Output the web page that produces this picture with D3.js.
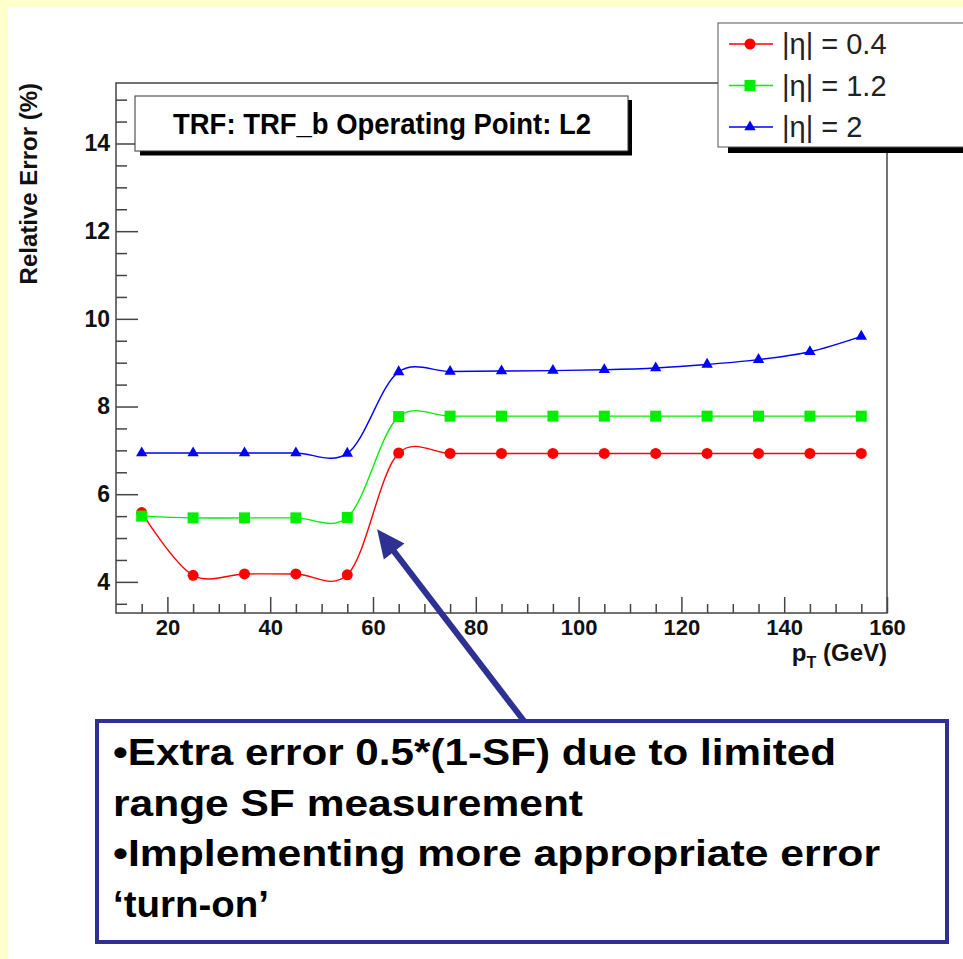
<!DOCTYPE html>
<html>
<head>
<meta charset="utf-8">
<script src="https://cdn.jsdelivr.net/npm/d3@7"></script>
<style>
  body { margin: 0; background: #fff; }
  svg { display: block; font-family: "Liberation Sans", Arial, Helvetica, sans-serif; }
</style>
</head>
<body>
<svg id="chart" width="963" height="959"></svg>
<script>
// data
const pt = [15, 25, 35, 45, 55, 65, 75, 85, 95, 105, 115, 125, 135, 145, 155]
const errEta04 = [5.58, 4.15, 4.18, 4.18, 4.16, 6.94, 6.93, 6.93, 6.93, 6.93, 6.93, 6.93, 6.93, 6.93, 6.93]
const errEta12 = [5.5, 5.46, 5.46, 5.46, 5.47, 7.77, 7.78, 7.78, 7.78, 7.78, 7.78, 7.78, 7.78, 7.78, 7.78]
const errEta2 = [6.94, 6.94, 6.94, 6.94, 6.93, 8.79, 8.8, 8.81, 8.82, 8.84, 8.88, 8.96, 9.07, 9.25, 9.6]
const seriesNames = ["|η| = 0.4", "|η| = 1.2", "|η| = 2"]
const xTicks = [20, 40, 60, 80, 100, 120, 140, 160]
const xMinor = d3.range(15, 160, 5).filter((v) => v % 20 !== 0)
const yTicks = [4, 6, 8, 10, 12, 14]
const yMinor = d3.range(3.5, 15.5, 0.5).filter((v) => v % 2 !== 0)
const titleText = "TRF: TRF_b Operating Point: L2"
const noteLines = [
  "•Extra error 0.5*(1-SF) due to limited",
  "range SF measurement",
  "•Implementing more appropriate error",
  "‘turn-on’",
]
const arrowTip = [60.8, 5.2]

const svg = d3.select("#chart")
const W = 963, H = 959
const frame = {left: 116, right: 887, top: 83, bottom: 613}
const navy = "#2e3192"

// slide background strips
svg.append("rect").attr("width", W).attr("height", H).attr("fill", "#fff")
svg.append("rect").attr("width", W).attr("height", 7).attr("fill", "#ffffcc")
svg.append("rect").attr("width", 8).attr("height", H).attr("fill", "#ffffcc")

const x = d3.scaleLinear().domain([10, 160]).range([frame.left, frame.right])
const y = d3.scaleLinear().domain([3.29, 15.38]).range([frame.bottom, frame.top])

const series = [
  {name: seriesNames[0], values: errEta04, color: "#ff0000", shape: "circle"},
  {name: seriesNames[1], values: errEta12, color: "#00ee00", shape: "square"},
  {name: seriesNames[2], values: errEta2, color: "#0000ff", shape: "triangle"},
]

const marker = (sel, s) => {
  if (s.shape === "circle") {
    sel.append("circle").attr("r", 5.5).attr("fill", s.color)
  } else if (s.shape === "square") {
    sel.append("rect").attr("x", -5.5).attr("y", -5.5).attr("width", 11).attr("height", 11).attr("fill", s.color)
  } else {
    sel.append("path").attr("d", d3.symbol(d3.symbolTriangle, 56)()).attr("fill", s.color)
  }
}

// axes with inward ticks, ROOT style
const axisStyle = (gg) => {
  gg.select(".domain").remove()
  gg.selectAll("line").attr("stroke", "#444").attr("stroke-width", 1.5)
  gg.selectAll("text").attr("font-size", 22).attr("font-weight", "bold").attr("fill", "#111")
    .attr("font-family", "Liberation Sans, Arial, sans-serif")
}

svg.append("g")
  .attr("transform", `translate(0,${frame.bottom})`)
  .call(d3.axisBottom(x).tickValues(xMinor).tickSize(-9).tickFormat(""))
  .call(axisStyle)
svg.append("g")
  .attr("transform", `translate(0,${frame.bottom})`)
  .call(d3.axisBottom(x).tickValues(xTicks).tickSize(-16).tickPadding(6).tickFormat(d3.format("d")))
  .call(axisStyle)
svg.append("g")
  .attr("transform", `translate(${frame.left},0)`)
  .call(d3.axisLeft(y).tickValues(yMinor).tickSize(-11).tickFormat(""))
  .call(axisStyle)
svg.append("g")
  .attr("transform", `translate(${frame.left},0)`)
  .call(d3.axisLeft(y).tickValues(yTicks).tickSize(-22).tickPadding(6).tickFormat(d3.format("d")))
  .call(axisStyle)
  .call((gg) => gg.selectAll("text").attr("font-size", 23))

svg.append("rect")
  .attr("x", frame.left).attr("y", frame.top)
  .attr("width", frame.right - frame.left).attr("height", frame.bottom - frame.top)
  .attr("fill", "none").attr("stroke", "#444").attr("stroke-width", 1.5)

// axis titles
svg.append("text")
  .attr("transform", `translate(37,${frame.top}) rotate(-90)`)
  .attr("text-anchor", "end").attr("font-size", 24).attr("font-weight", "bold").attr("fill", "#111")
  .text("Relative Error (%)")

const xl = svg.append("text")
  .attr("x", frame.right).attr("y", 661)
  .attr("text-anchor", "end").attr("font-size", 24).attr("font-weight", "bold").attr("fill", "#111")
xl.append("tspan").text("p")
xl.append("tspan").attr("dy", 7).attr("font-size", 16).text("T")
xl.append("tspan").attr("dy", -7).text(" (GeV)")

// smoothed curves and markers
const line = d3.line().x((d, i) => x(pt[i])).y((d) => y(d)).curve(d3.curveCatmullRom.alpha(0.2))

series.forEach((s) => {
  svg.append("path")
    .attr("d", line(s.values))
    .attr("fill", "none").attr("stroke", s.color).attr("stroke-width", 1.4)
  svg.append("g").selectAll("g")
    .data(s.values)
    .join("g")
    .attr("transform", (d, i) => `translate(${x(pt[i])},${y(d)})`)
    .each(function () { marker(d3.select(this), s) })
})

// title pave
svg.append("rect").attr("x", 140).attr("y", 151).attr("width", 492).attr("height", 4.5).attr("fill", "#000")
svg.append("rect").attr("x", 628).attr("y", 100).attr("width", 4).attr("height", 55).attr("fill", "#000")
svg.append("rect").attr("x", 135).attr("y", 96).attr("width", 493).attr("height", 55)
  .attr("fill", "#fff").attr("stroke", "#333").attr("stroke-width", 1)
svg.append("text")
  .attr("x", 382).attr("y", 134).attr("text-anchor", "middle")
  .attr("font-size", 30).attr("font-weight", "bold").attr("fill", "#000")
  .attr("textLength", 418).attr("lengthAdjust", "spacingAndGlyphs")
  .text(titleText)

// legend
const lg = svg.append("g")
lg.append("rect").attr("x", 728).attr("y", 147).attr("width", 260).attr("height", 6).attr("fill", "#000")
lg.append("rect").attr("x", 718).attr("y", 23).attr("width", 260).attr("height", 124)
  .attr("fill", "#fff").attr("stroke", "#555").attr("stroke-width", 1)
const rowY = d3.scalePoint().domain(seriesNames).range([44, 127])
series.forEach((s) => {
  const r = lg.append("g").attr("transform", `translate(0,${rowY(s.name)})`)
  r.append("line").attr("x1", 729).attr("x2", 773).attr("stroke", s.color).attr("stroke-width", 1.4)
  marker(r.append("g").attr("transform", "translate(750,0)"), s)
  r.append("text").attr("x", 782).attr("dy", "0.36em")
    .attr("font-size", 29).attr("fill", "#222").text(s.name)
})

// annotation box and arrow
const tail = [524, 721]
const tip = [x(arrowTip[0]), y(arrowTip[1])]
const dx = tip[0] - tail[0], dy = tip[1] - tail[1]
const len = Math.hypot(dx, dy)
const ux = dx / len, uy = dy / len
const headL = 28, headW = 13
const base = [tip[0] - ux * headL, tip[1] - uy * headL]
svg.append("line")
  .attr("x1", tail[0]).attr("y1", tail[1]).attr("x2", base[0] + ux * 4).attr("y2", base[1] + uy * 4)
  .attr("stroke", navy).attr("stroke-width", 6)
svg.append("polygon")
  .attr("points", [
    tip,
    [base[0] - uy * headW, base[1] + ux * headW],
    [base[0] + uy * headW, base[1] - ux * headW],
  ].map((p) => p.join(",")).join(" "))
  .attr("fill", navy)

svg.append("rect").attr("x", 97).attr("y", 721).attr("width", 850).attr("height", 221)
  .attr("fill", "#fff").attr("stroke", navy).attr("stroke-width", 4)

const noteWidths = [723, 470, 767, 156]
noteLines.forEach((t, i) => {
  svg.append("text")
    .attr("x", 113).attr("y", 765 + i * 50.5)
    .attr("font-size", 36).attr("font-weight", "bold").attr("fill", "#000")
    .attr("textLength", noteWidths[i]).attr("lengthAdjust", "spacingAndGlyphs")
    .text(t)
})
</script>
</body>
</html>
